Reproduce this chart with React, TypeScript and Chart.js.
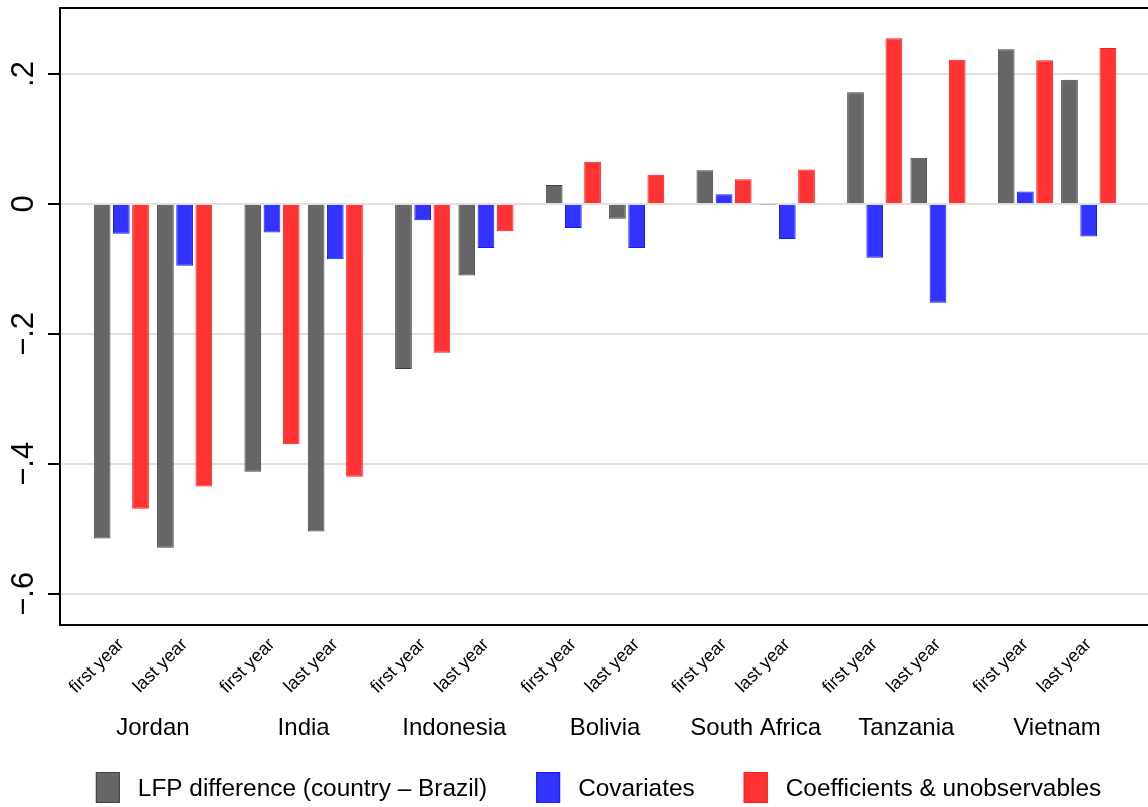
import React, { useEffect, useRef } from "react";
import { Chart, registerables } from "chart.js";

Chart.register(...registerables);

// ---- Data ----
const COUNTRIES = ["Jordan", "India", "Indonesia", "Bolivia", "South Africa", "Tanzania", "Vietnam"];
const YEARS = ["first year", "last year"];
const SERIES_LABELS = ["LFP difference (country \u2013 Brazil)", "Covariates", "Coefficients & unobservables"];
// order: Jordan first, Jordan last, India first, India last, ...
const LFP_DIFF = [-0.515, -0.529, -0.412, -0.504, -0.254, -0.110, 0.029, -0.023, 0.052, -0.001, 0.172, 0.071, 0.238, 0.191];
const COVARIATES = [-0.046, -0.095, -0.044, -0.085, -0.025, -0.068, -0.037, -0.068, 0.015, -0.054, -0.083, -0.152, 0.019, -0.050];
const COEFFS = [-0.469, -0.435, -0.370, -0.420, -0.229, -0.042, 0.065, 0.045, 0.038, 0.053, 0.255, 0.222, 0.221, 0.240];
const Y_TICKS = [-0.6, -0.4, -0.2, 0, 0.2];
const Y_TICK_LABELS = ["\u2212.6", "\u2212.4", "\u2212.2", "0", ".2"];

// ---- Layout constants ----
const FONT = "'Liberation Sans', Arial, Helvetica, sans-serif";
const X_MIN = -0.617;
const X_MAX = 6.617;
const YEAR_OFFSET = 0.21;

const COLORS = [
  { fill: "#666666", border: "#404040" },
  { fill: "#3333ff", border: "#1a1aff" },
  { fill: "#ff3333", border: "#ff1a1a" },
];

function xPos(i: number): number {
  const c = Math.floor(i / 2);
  const yr = i % 2;
  return c + (yr === 0 ? -YEAR_OFFSET : YEAR_OFFSET);
}

const TICK_POSITIONS = LFP_DIFF.map((_, i) => xPos(i));

const framePlugin = {
  id: "frameAndLabels",
  afterDraw(chart: any) {
    const { ctx, chartArea } = chart;
    const yScale = chart.scales.y;
    ctx.save();
    // frame
    ctx.strokeStyle = "#000";
    ctx.lineWidth = 2;
    ctx.strokeRect(chartArea.left, chartArea.top, chartArea.right - chartArea.left, chartArea.bottom - chartArea.top);

    // y tick labels, rotated
    ctx.fillStyle = "#000";
    ctx.font = `31px ${FONT}`;
    ctx.textAlign = "center";
    ctx.textBaseline = "alphabetic";
    Y_TICKS.forEach((v, i) => {
      const py = yScale.getPixelForValue(v);
      ctx.save();
      ctx.translate(33, py);
      ctx.rotate(-Math.PI / 2);
      ctx.fillText(Y_TICK_LABELS[i], 0, 0);
      ctx.restore();
    });

    // legend
    ctx.font = `24.4px ${FONT}`;
    ctx.textAlign = "left";
    const boxW = 24;
    const boxH = 31;
    const textGap = 42;
    const itemGap = 49;
    const items = chart.data.datasets.map((ds: any) => ({
      label: ds.label,
      fill: ds.backgroundColor,
      border: ds.borderColor,
      w: ctx.measureText(ds.label).width,
    }));
    const total = items.reduce((s: number, it: any) => s + textGap + it.w, 0) + itemGap * (items.length - 1);
    let x = 598.5 - total / 2;
    const boxTop = 772;
    const baseline = 796;
    items.forEach((it: any) => {
      ctx.fillStyle = it.fill;
      ctx.fillRect(x, boxTop, boxW, boxH);
      ctx.strokeStyle = it.border;
      ctx.lineWidth = 1;
      ctx.strokeRect(x + 0.5, boxTop + 0.5, boxW - 1, boxH - 1);
      ctx.fillStyle = "#000";
      ctx.fillText(it.label, x + textGap, baseline);
      x += textGap + it.w + itemGap;
    });
    ctx.restore();
  },
};

export default function App() {
  const ref = useRef<HTMLCanvasElement | null>(null);

  useEffect(() => {
    if (!ref.current) return;
    Chart.defaults.font.family = FONT;
    Chart.defaults.color = "#000";
    const series = [LFP_DIFF, COVARIATES, COEFFS];
    const chart = new Chart(ref.current, {
      type: "bar",
      data: {
        datasets: series.map((vals, k) => ({
          label: SERIES_LABELS[k],
          data: vals.map((v, i) => ({ x: xPos(i), y: v })),
          backgroundColor: COLORS[k].fill,
          borderColor: COLORS[k].border,
          borderWidth: 1,
          xAxisID: "x",
          yAxisID: "y",
          categoryPercentage: 0.91,
          barPercentage: 0.87,
        })),
      },
      options: {
        animation: false,
        responsive: false,
        maintainAspectRatio: false,
        layout: { padding: { top: 8, right: 2, bottom: 62, left: 0 } },
        plugins: {
          legend: { display: false },
          tooltip: { enabled: false },
        },
        scales: {
          x: {
            type: "linear",
            min: X_MIN,
            max: X_MAX,
            offset: false,
            bounds: "data",
            position: "bottom",
            weight: 0,
            grid: { display: false, drawTicks: false, offset: false },
            border: { display: true, color: "#000", width: 2 },
            afterBuildTicks: (s: any) => {
              s.ticks = TICK_POSITIONS.map((v) => ({ value: v }));
            },
            afterFit: (s: any) => {
              s.height = 80;
              s.paddingLeft = 0;
              s.paddingRight = 0;
            },
            ticks: {
              autoSkip: false,
              minRotation: 45,
              maxRotation: 45,
              padding: 9,
              color: "#000",
              font: { size: 18, family: FONT },
              callback: (_v: any, i: number) => YEARS[i % 2],
            },
          },
          x2: {
            type: "linear",
            min: X_MIN,
            max: X_MAX,
            offset: false,
            bounds: "data",
            position: "bottom",
            weight: 1,
            grid: { display: false, drawTicks: false, offset: false },
            border: { display: false },
            afterBuildTicks: (s: any) => {
              s.ticks = COUNTRIES.map((_, i) => ({ value: i }));
            },
            afterFit: (s: any) => {
              s.height = 40;
              s.paddingLeft = 0;
              s.paddingRight = 0;
            },
            ticks: {
              autoSkip: false,
              minRotation: 0,
              maxRotation: 0,
              padding: 9,
              color: "#000",
              font: { size: 24, family: FONT },
              callback: (_v: any, i: number) => COUNTRIES[i],
            },
          },
          y: {
            type: "linear",
            min: -0.648,
            max: 0.3015,
            afterBuildTicks: (s: any) => {
              s.ticks = Y_TICKS.map((v) => ({ value: v }));
            },
            afterFit: (s: any) => {
              s.width = 60;
            },
            grid: {
              color: "#e0e0e0",
              lineWidth: 2,
              drawTicks: true,
              tickLength: 12,
              tickColor: "#000",
              tickWidth: 2,
            },
            border: { display: true, color: "#000", width: 2 },
            ticks: { display: false },
          },
        },
      } as any,
      plugins: [framePlugin],
    } as any);
    return () => chart.destroy();
  }, []);

  return (
    <div
      style={{
        position: "fixed",
        left: 0,
        top: 0,
        width: 1148,
        height: 807,
        overflow: "hidden",
        background: "#fff",
      }}
    >
      <canvas ref={ref} width={1152} height={807} style={{ display: "block", width: 1152, height: 807 }} />
    </div>
  );
}
